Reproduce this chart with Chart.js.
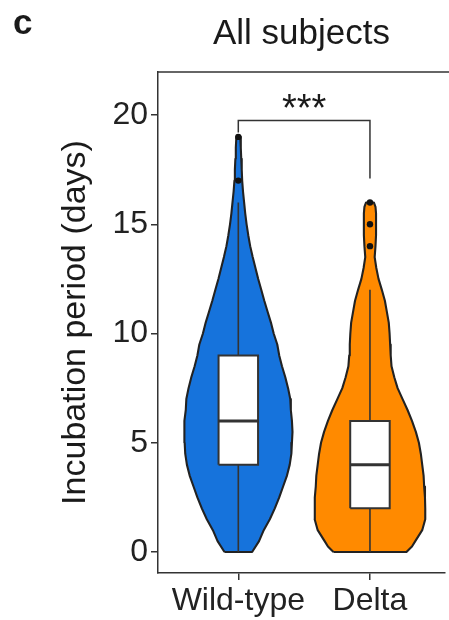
<!DOCTYPE html>
<html><head><meta charset="utf-8">
<script src="https://cdn.jsdelivr.net/npm/chart.js@4/dist/chart.umd.min.js"></script>
<style>html,body{margin:0;padding:0;background:#fff}#wrap{width:449px;height:620px;position:relative}</style>
</head><body><div id="wrap"><canvas id="c"></canvas></div>
<script>
// ---- data ----
const categories = ['Wild-type', 'Delta'];
const yTicks = [0, 5, 10, 15, 20];
const panelLetter = 'c';
const chartTitle = 'All subjects';
const yTitle = 'Incubation period (days)';

// violin outlines: sampled values and relative density (1 = widest)
const wtDensityY = [0,0.5,1,1.5,2,2.5,3,3.5,4,4.5,5,5.5,6,6.5,7,7.5,8,8.5,9,9.5,10,10.5,11,11.5,12,12.5,13,13.5,14,14.5,15,15.5,16,16.5,17,17.5,18,18.5,19];
const wtDensity  = [.25,.375,.46,.57,.66,.74,.81,.88,.93,.96,.97,.98,.97,.95,.94,.90,.85,.79,.74,.705,.64,.59,.53,.47,.415,.36,.31,.26,.215,.18,.15,.125,.105,.085,.07,.062,.053,.045,.035];
const deltaDensityY = [0,0.25,0.5,1,1.5,2,2.5,3,3.5,4,4.5,5,5.5,6,6.5,7,7.5,8,8.5,9,9.5,10,10.5,11,11.5,12,12.5,13,13.5,14,14.5,15,15.5,15.8,16];
const deltaDensity  = [.66,.76,.82,.945,1.0,1.0,.995,.98,.97,.945,.92,.885,.83,.76,.68,.59,.50,.44,.39,.375,.365,.355,.34,.305,.27,.215,.155,.115,.085,.10,.11,.11,.11,.10,.07];

// box stats: [lower whisker, Q1, median, Q3, upper whisker]
const wtBox = [0, 4, 6, 9, 16];
const deltaBox = [0, 2, 4, 6, 12];
const wtOutliers = [17, 19];
const deltaOutliers = [14, 15, 16];

// significance bracket
const bracketX = [1, 1, 2, 2];
const bracketY = [19.2, 19.75, 19.75, 17.1];
const sigLabel = '***';

// ---- styling ----
const FONT = "'Liberation Sans', Arial, Helvetica, sans-serif";
const BLUE = '#1673DC';
const ORANGE = '#FF8A00';
const EDGE = '#222222';
const AXIS = '#333333';
const TEXT = '#1a1a1a';
const VIOLIN_HALF = 0.42;   // half-width (x units) at density 1
const BOX_HALF = 0.15;

function violinPts(pos, ys, ds) {
  const left = ys.map((y, i) => ({x: pos - ds[i] * VIOLIN_HALF, y}));
  const right = ys.map((y, i) => ({x: pos + ds[i] * VIOLIN_HALF, y})).reverse();
  return [...left, ...right, left[0]];
}
function boxPts(pos, b) {
  return [{x: pos - BOX_HALF, y: b[1]}, {x: pos - BOX_HALF, y: b[3]}, {x: pos + BOX_HALF, y: b[3]},
          {x: pos + BOX_HALF, y: b[1]}, {x: pos - BOX_HALF, y: b[1]}];
}
function whiskerPts(pos, b) {
  return [{x: pos, y: b[0]}, {x: pos, y: b[1]}, {x: NaN, y: NaN}, {x: pos, y: b[3]}, {x: pos, y: b[4]}];
}
function medianPts(pos, b) {
  return [{x: pos - BOX_HALF, y: b[2]}, {x: pos + BOX_HALF, y: b[2]}];
}

const groups = [
  {pos: 1, ys: wtDensityY, ds: wtDensity, box: wtBox, out: wtOutliers, color: BLUE},
  {pos: 2, ys: deltaDensityY, ds: deltaDensity, box: deltaBox, out: deltaOutliers, color: ORANGE}
];

const datasets = [];
const base = {showLine: true, pointRadius: 0, tension: 0, borderJoinStyle: 'round', spanGaps: false};
groups.forEach(g => {
  datasets.push({...base, data: violinPts(g.pos, g.ys, g.ds), fill: 'shape', backgroundColor: g.color,
    borderColor: EDGE, borderWidth: 2.1, order: 6});
  datasets.push({...base, data: whiskerPts(g.pos, g.box), fill: false, borderColor: '#333', borderWidth: 1.6, order: 5});
  datasets.push({...base, data: boxPts(g.pos, g.box), fill: 'shape', backgroundColor: '#ffffff',
    borderColor: '#333', borderWidth: 2, borderJoinStyle: 'miter', order: 4});
  datasets.push({...base, data: medianPts(g.pos, g.box), fill: false, borderColor: '#333', borderWidth: 3, order: 3});
  datasets.push({showLine: false, data: g.out.map(v => ({x: g.pos, y: v})), pointRadius: 3.2,
    pointBackgroundColor: '#111', pointBorderWidth: 0, fill: false, order: 2});
});
datasets.push({...base, data: bracketX.map((x, i) => ({x, y: bracketY[i]})), fill: false,
  borderColor: '#333', borderWidth: 1.5, borderJoinStyle: 'miter', order: 1});

const extras = {
  id: 'extras',
  afterDraw(chart) {
    const {ctx, chartArea: a, scales: {x, y}} = chart;
    ctx.save();
    // panel top border
    ctx.strokeStyle = AXIS; ctx.lineWidth = 1.5;
    ctx.beginPath(); ctx.moveTo(a.left - 0.75, a.top); ctx.lineTo(chart.width, a.top); ctx.stroke();
    // significance label
    ctx.fillStyle = TEXT;
    ctx.font = '38px ' + FONT;
    ctx.textAlign = 'center'; ctx.textBaseline = 'alphabetic';
    ctx.fillText(sigLabel, x.getPixelForValue((bracketX[0] + bracketX[3]) / 2), y.getPixelForValue(bracketY[1]) + 0.5);
    // panel letter
    ctx.font = 'bold 35px ' + FONT;
    ctx.textAlign = 'left';
    ctx.fillText(panelLetter, 13, 34);
    ctx.restore();
  }
};

new Chart(document.getElementById('c'), {
  type: 'line',
  data: {datasets},
  plugins: [extras],
  options: {
    responsive: true, maintainAspectRatio: false, animation: false, devicePixelRatio: 1,
    layout: {padding: {left: 0, right: 0, top: 0, bottom: 0}},
    plugins: {
      legend: {display: false}, tooltip: {enabled: false},
      filler: {drawTime: 'beforeDatasetDraw'},
      title: {display: true, text: chartTitle, fullSize: false, color: TEXT,
        font: {family: FONT, size: 35, weight: 'normal', lineHeight: 1.2}, padding: {top: 13, bottom: 17}}
    },
    scales: {
      x: {
        type: 'linear', min: 0.39, max: 2.57,
        afterBuildTicks: s => { s.ticks = categories.map((c, i) => ({value: i + 1})); },
        afterFit: s => { s.height = 47; },
        ticks: {callback: v => categories[Math.round(v) - 1], autoSkip: false, maxRotation: 0,
          font: {family: FONT, size: 32, lineHeight: 1.2}, color: '#222', padding: 2},
        grid: {display: true, drawOnChartArea: false, drawTicks: true, tickLength: 7, color: AXIS, lineWidth: 1.5},
        border: {display: true, color: AXIS, width: 1.5}
      },
      y: {
        type: 'linear', min: -0.96, max: 21.97,
        afterBuildTicks: s => { s.ticks = yTicks.map(v => ({value: v})); },
        afterFit: s => { s.width = 158; },
        ticks: {font: {family: FONT, size: 32, lineHeight: 1.2}, color: '#222', padding: 3},
        grid: {display: true, drawOnChartArea: false, drawTicks: true, tickLength: 7, color: AXIS, lineWidth: 1.5},
        border: {display: true, color: AXIS, width: 1.5},
        title: {display: true, text: yTitle, color: TEXT,
          font: {family: FONT, size: 34, lineHeight: 1.2}, padding: {top: 55, bottom: 0}}
      }
    }
  }
});
</script>
</body></html>
